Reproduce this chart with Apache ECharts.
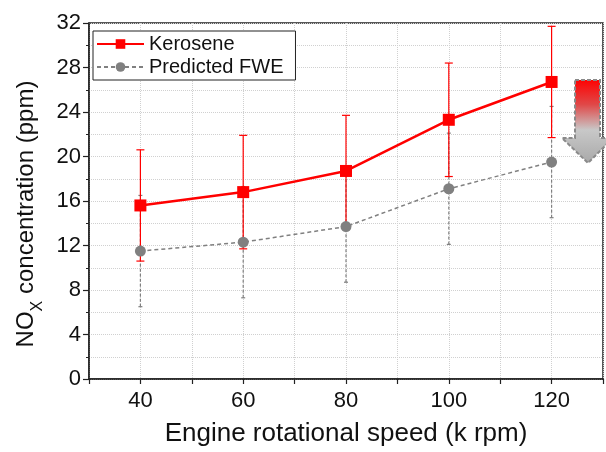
<!DOCTYPE html>
<html>
<head>
<meta charset="utf-8">
<script src="https://cdn.jsdelivr.net/npm/echarts@6/dist/echarts.min.js"></script>
<style>
  html, body { margin: 0; padding: 0; background: #fff; }
  #chart { width: 606px; height: 452px; }
</style>
</head>
<body>
<div id="chart"></div>
<script>
var speeds = [40, 60, 80, 100, 120];
var kerosene = [15.6, 16.8, 18.7, 23.3, 26.7];
var keroseneErr = [5.0, 5.1, 5.0, 5.1, 5.0];
var fwe = [11.5, 12.3, 13.7, 17.1, 19.5];
var fweErr = [5.0, 5.0, 5.0, 5.0, 5.0];
var xTickLabels = ['40', '60', '80', '100', '120'];

var font = 'Liberation Sans, Arial, sans-serif';
var red = '#ff0000';
var grey = '#808080';

function errorBars(name, vals, errs, color, dashed, capHalf) {
    return {
        type: 'custom',
        name: name,
        silent: true,
        z: dashed ? 1 : 2,
        data: speeds.map(function (s, i) { return [s, vals[i] - errs[i], vals[i] + errs[i]]; }),
        renderItem: function (params, api) {
            var lo = api.coord([api.value(0), api.value(1)]);
            var hi = api.coord([api.value(0), api.value(2)]);
            var style = { stroke: color, lineWidth: 1.2, lineDash: dashed ? [3, 2] : null };
            return {
                type: 'group',
                children: [
                    { type: 'line', shape: { x1: lo[0], y1: lo[1], x2: hi[0], y2: hi[1] }, style: style },
                    { type: 'line', shape: { x1: hi[0] - capHalf, y1: hi[1], x2: hi[0] + capHalf, y2: hi[1] }, style: { stroke: color, lineWidth: 1.2 } },
                    { type: 'line', shape: { x1: lo[0] - capHalf, y1: lo[1], x2: lo[0] + capHalf, y2: lo[1] }, style: { stroke: color, lineWidth: 1.2 } }
                ]
            };
        }
    };
}

var chart = echarts.init(document.getElementById('chart'));

var option = {
    animation: false,
    textStyle: { fontFamily: font },
    grid: {
        left: 89, right: 3, top: 23, bottom: 71,
        show: true, borderColor: '#222', borderWidth: 1.5, backgroundColor: 'transparent'
    },
    legend: {
        data: ['Kerosene', 'Predicted FWE'],
        orient: 'vertical',
        left: 93, top: 31,
        padding: [3, 12, 3, 3],
        itemGap: 3,
        itemWidth: 47, itemHeight: 12,
        borderColor: '#222', borderWidth: 1, backgroundColor: '#fff',
        textStyle: { fontSize: 20, color: '#111', fontFamily: font }
    },
    xAxis: {
        type: 'value',
        min: 30, max: 130, interval: 10,
        name: 'Engine rotational speed (k rpm)',
        nameLocation: 'middle', nameGap: 42,
        nameTextStyle: { fontSize: 26, color: '#111' },
        axisLine: { lineStyle: { color: '#222', width: 1.5 } },
        axisTick: { show: true, length: 5, lineStyle: { color: '#222', width: 1.2 } },
        axisLabel: {
            margin: 11, fontSize: 22, color: '#111',
            formatter: function (v) {
                var idx = speeds.indexOf(v);
                return idx >= 0 ? xTickLabels[idx] : '';
            }
        },
        splitLine: { show: true, lineStyle: { color: '#d0d0d0', type: 'dotted', width: 1 } }
    },
    yAxis: {
        type: 'value',
        min: 0, max: 32, interval: 4,
        name: '{n|NO}{s|X}{n| concentration (ppm)}',
        nameLocation: 'middle', nameGap: 46,
        nameTextStyle: {
            padding: [0, 26, 0, 0],
            rich: {
                n: { fontSize: 24, color: '#111', fontFamily: font, verticalAlign: 'bottom', lineHeight: 28 },
                s: { fontSize: 16, color: '#111', fontFamily: font, verticalAlign: 'bottom', lineHeight: 28, padding: [0, 0, -7, 0] }
            }
        },
        axisLine: { show: true, lineStyle: { color: '#222', width: 1.5 } },
        axisTick: { show: true, length: 6, lineStyle: { color: '#222', width: 1.2 } },
        minorTick: { show: true, splitNumber: 2, length: 3, lineStyle: { color: '#222', width: 1 } },
        axisLabel: { margin: 8, fontSize: 22, color: '#111' },
        splitLine: { show: true, lineStyle: { color: '#d0d0d0', type: 'dotted', width: 1 } },
        minorSplitLine: { show: true, lineStyle: { color: '#d0d0d0', type: 'dotted', width: 1 } }
    },
    graphic: [{
        type: 'polygon',
        z: 50,
        shape: { points: [[575, 80], [600, 80], [600, 138], [613, 138], [588, 163], [562, 138], [575, 138]] },
        style: {
            fill: new echarts.graphic.LinearGradient(0, 0, 0, 1, [
                { offset: 0, color: '#ff0000' },
                { offset: 0.3, color: '#e04848' },
                { offset: 0.6, color: '#c8c8c8' },
                { offset: 1, color: '#a8a8a8' }
            ]),
            stroke: '#8a8a8a', lineWidth: 2, lineDash: [4, 2]
        }
    }],
    series: [
        errorBars('fweErr', fwe, fweErr, grey, true, 2),
        errorBars('keroseneErr', kerosene, keroseneErr, red, false, 4),
        {
            name: 'Predicted FWE',
            type: 'line',
            z: 3,
            data: speeds.map(function (s, i) { return [s, fwe[i]]; }),
            symbol: 'circle', symbolSize: 11,
            itemStyle: { color: grey },
            lineStyle: { color: grey, width: 1.5, type: [4, 3] }
        },
        {
            name: 'Kerosene',
            type: 'line',
            z: 4,
            data: speeds.map(function (s, i) { return [s, kerosene[i]]; }),
            symbol: 'rect', symbolSize: 12,
            itemStyle: { color: red },
            lineStyle: { color: red, width: 2.5 }
        }
    ]
};

chart.setOption(option);
</script>
</body>
</html>
